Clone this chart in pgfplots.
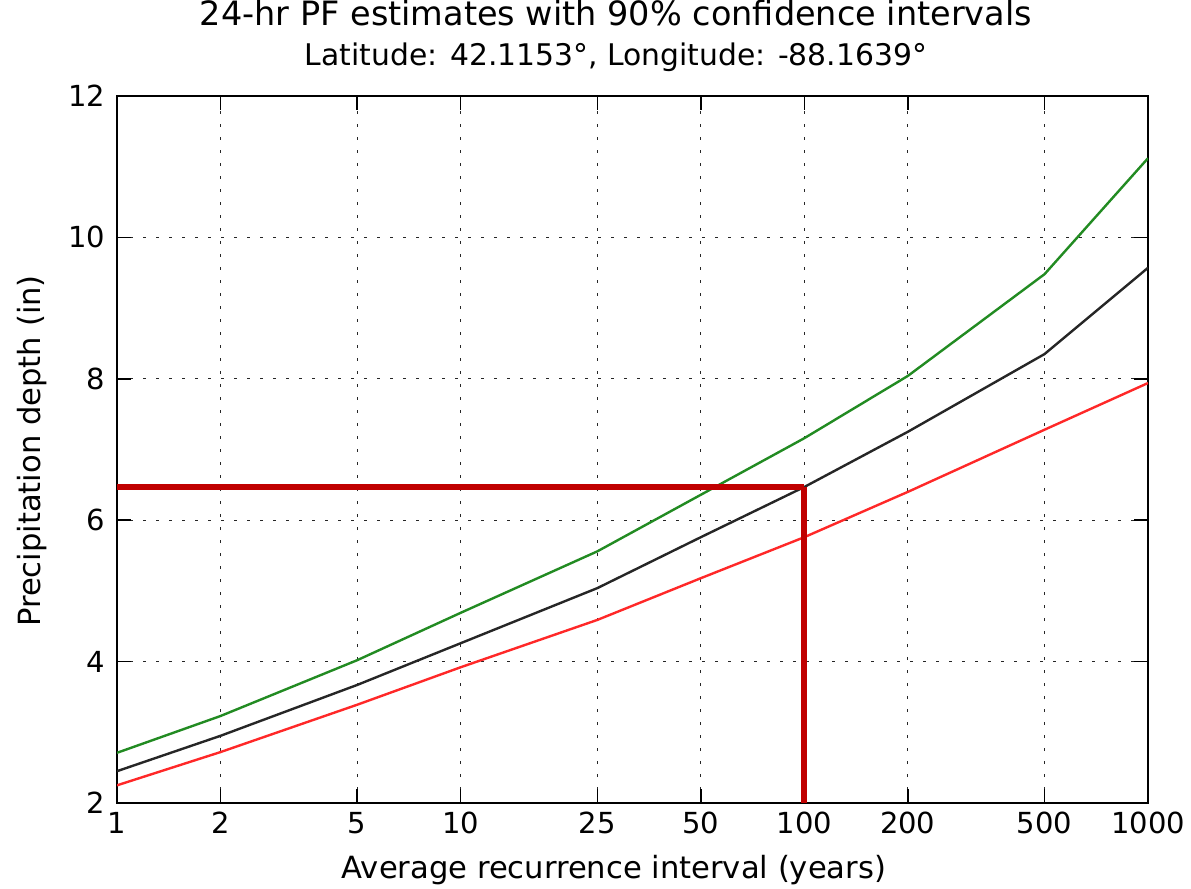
\documentclass[border=0pt]{standalone}
\usepackage{pgfplots}
\pgfplotsset{compat=1.18}
\usetikzlibrary{calc}
\usepackage{fontspec}
\setmainfont{DejaVu Sans}
\definecolor{grn}{RGB}{34,139,34}
\definecolor{rd}{RGB}{255,40,40}
\definecolor{drd}{RGB}{192,0,0}
\begin{document}
\begin{tikzpicture}
\begin{axis}[
  scale only axis,
  width=515.5pt, height=353.5pt,
  xmode=log, log basis x=10,
  xmin=1, xmax=1000, ymin=2, ymax=12,
  xtick={1,2,5,10,25,50,100,200,500,1000},
  xticklabels={1,2,5,10,25,50,100,200,500,1000},
  ytick={2,4,6,8,10,12},
  minor xtick={}, minor ytick={},
  log ticks with fixed point,
  /pgf/number format/assume math mode=true,
  tick label style={font=\fontsize{14.5}{16}\selectfont},
  yticklabel style={xshift=-2.5pt},
  xticklabel style={yshift=-1pt},
  label style={font=\fontsize{15.3}{17}\selectfont},
  title style={font=\fontsize{16.75}{19}\selectfont, at={(axis description cs:0.484,1)}, anchor=center, yshift=35.5pt},
  title={24-hr PF estimates with 90\% confidence intervals},
  xlabel={Average recurrence interval (years)},
  ylabel={Precipitation depth (in)},
  xlabel style={at={(axis description cs:0.482,0)}, anchor=center, yshift=-33.5pt},
  ylabel style={at={(axis description cs:0,0.498)}, anchor=center, yshift=42.5pt},
  after end axis/.code={
    \node[font=\fontsize{14.9}{17}\selectfont] at ([yshift=19.5pt]axis description cs:0.484,1) {Latitude: 42.1153°, Longitude: -88.1639°};
  },
  grid=major,
  major grid style={black!85, line width=0.5pt, dash pattern=on 1.5pt off 5pt},
  axis line style={line width=1pt},
  tick style={black, line width=0.8pt},
  tick align=inside,
  major tick length=7pt,
  xtick pos=both, ytick pos=both,
  clip=true,
]
\addplot[grn, line width=1.2pt] coordinates {
(1,2.71) (2,3.23) (5,4.02) (10,4.69) (25,5.56) (50,6.36) (100,7.16) (200,8.04) (500,9.48) (1000,11.12)};
\addplot[black!85, line width=1.2pt] coordinates {
(1,2.45) (2,2.95) (5,3.67) (10,4.26) (25,5.04) (50,5.76) (100,6.47) (200,7.25) (500,8.35) (1000,9.57)};
\addplot[rd, line width=1.2pt] coordinates {
(1,2.25) (2,2.72) (5,3.39) (10,3.92) (25,4.59) (50,5.18) (100,5.76) (200,6.40) (500,7.28) (1000,7.94)};
\addplot[drd, line width=3pt] coordinates {(1,6.47) (100,6.47)};
\addplot[drd, line width=3pt] coordinates {(100,6.47) (100,2)};
\end{axis}
\pgfresetboundingbox
\useasboundingbox ($(current axis.south west)+(-58.5pt,-42.5pt)$) rectangle ($(current axis.north east)+(21.5pt,48pt)$);
\end{tikzpicture}
\end{document}
